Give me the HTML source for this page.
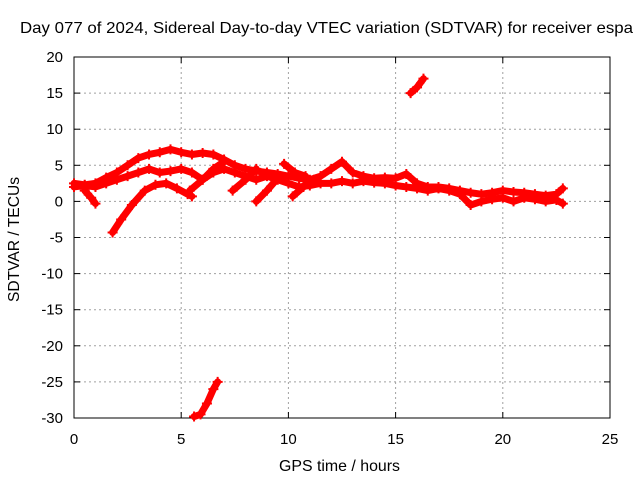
<!DOCTYPE html>
<html><head><meta charset="utf-8"><style>
body{margin:0;background:#fff}
svg{display:block;font-family:"Liberation Sans",sans-serif}
</style></head><body>
<svg id="chart" width="640" height="480" viewBox="0 0 640 480">
<rect width="640" height="480" fill="#fff"/>
<g id="grid"></g>
<g id="axes"></g>
<g id="series"></g>
<text x="20" y="33" font-size="16" textLength="613" lengthAdjust="spacingAndGlyphs">Day 077 of 2024, Sidereal Day-to-day VTEC variation (SDTVAR) for receiver espa</text>
<text x="279" y="471" font-size="16" textLength="121" lengthAdjust="spacingAndGlyphs">GPS time / hours</text>
<text transform="translate(19,302) rotate(-90)" font-size="16" textLength="125" lengthAdjust="spacingAndGlyphs">SDTVAR / TECUs</text>
</svg>
<script>
const xTicks=[0,5,10,15,20,25];
const yTicks=[20,15,10,5,0,-5,-10,-15,-20,-25,-30];
const trackUpper=[[0,2.5],[0.5,2.3],[1,2.5],[1.5,3.3],[2,4],[2.5,5],[3,6],[3.5,6.5],[4,6.8],[4.5,7.2],[5,6.8],[5.5,6.5],[6,6.7],[6.5,6.5],[7,5.8],[7.5,5],[8,4.5],[8.5,4.2],[9,4],[9.5,3.8],[10,3.5],[10.5,3.2],[11,3],[11.5,3.5],[12,4.5],[12.5,5.5],[13,4],[13.5,3.5],[14,3.2],[14.5,3.3],[15,3.2],[15.5,3.8],[16,2.5],[16.5,2],[17,2],[17.5,1.8],[18,1.5],[18.5,1.2],[19,1],[19.5,1.2],[20,1.5],[20.5,1.3],[21,1.2],[21.5,1],[22,0.8],[22.5,1],[22.8,1.8]];
const trackLower=[[0,2],[0.5,2.2],[1,2],[1.5,2.5],[2,3],[2.5,3.5],[3,4],[3.5,4.5],[4,4],[4.5,4.2],[5,4.5],[5.5,4],[6,3],[6.5,4],[7,4.5],[7.5,4],[8,3.5],[8.5,3],[9,3.5],[9.5,3],[10,2.5],[10.5,2],[11,2.2],[11.5,2.5],[12,2.5],[12.5,2.8],[13,2.5],[13.5,2.8],[14,2.6],[14.5,2.5],[15,2.2],[15.5,2],[16,1.8],[16.5,1.5],[17,1.8],[17.5,1.5],[18,1],[18.5,-0.5],[19,0],[19.5,0.3],[20,0.5],[20.5,0],[21,0.5],[21.5,0.3],[22,0],[22.5,0.2],[22.8,-0.3]];
const trackRise=[[1.8,-4.3],[2.2,-2.5],[2.7,-0.5],[3.3,1.5],[3.8,2.3],[4.3,2.5],[4.8,1.8],[5.3,1],[5.5,0.7]];
const trackDip=[[0.5,1.5],[0.8,0.5],[1,-0.3]];
const hookA=[[5.4,1.5],[6,3],[6.5,4.5],[7,5.5]];
const hookB=[[7.4,1.5],[8,3],[8.5,4.5]];
const hookC=[[8.5,0],[9,1.5],[9.5,3.2]];
const hookD=[[10.2,0.7],[10.7,2],[11.2,3]];
const hookE=[[9.8,5.2],[10.3,4],[10.8,3.5]];
const trackHigh=[[15.7,15],[16,15.8],[16.3,17]];
const trackLow=[[5.6,-29.8],[5.9,-29.5],[6.2,-28],[6.5,-26],[6.7,-25]];
const tracks=[trackUpper,trackLower,trackRise,trackDip,hookA,hookB,hookC,hookD,hookE,trackHigh,trackLow];
const X0=74,X1=610,Y0=418,Y1=57;
const sx=v=>X0+(v-0)/25*(X1-X0);
const sy=v=>Y0-(v+30)/50*(Y0-Y1);
const NS="http://www.w3.org/2000/svg";
function mk(t,a,p){const e=document.createElementNS(NS,t);for(const k in a)e.setAttribute(k,a[k]);p.appendChild(e);return e;}
const grid=document.getElementById('grid'),axes=document.getElementById('axes'),ser=document.getElementById('series');
xTicks.forEach(t=>{const x=sx(t);
 if(t>0&&t<25){const g=mk('line',{x1:x,x2:x,y1:Y1,y2:Y0,stroke:'#a0a0a0','stroke-dasharray':'2,3'},grid);
 }
 const l=mk('text',{x:x,y:Y0+26,'font-size':15,'text-anchor':'middle'},axes);l.textContent=t;
 
 mk('line',{x1:x,x2:x,y1:Y0,y2:Y0-6,stroke:'#000'},axes);mk('line',{x1:x,x2:x,y1:Y1,y2:Y1+6,stroke:'#000'},axes);});
yTicks.forEach(t=>{const y=sy(t);
 if(t>-30&&t<20){const g=mk('line',{x1:X0,x2:X1,y1:y,y2:y,stroke:'#a0a0a0','stroke-dasharray':'2,3'},grid);
 }
 const l=mk('text',{x:X0-11,y:y+5,'font-size':15,'text-anchor':'end'},axes);l.textContent=t;
 
 mk('line',{x1:X0,x2:X0+6,y1:y,y2:y,stroke:'#000'},axes);mk('line',{x1:X1,x2:X1-6,y1:y,y2:y,stroke:'#000'},axes);});
const fr=mk('rect',{x:X0,y:Y1,width:X1-X0,height:Y0-Y1,fill:'none',stroke:'#000'},axes);

tracks.forEach(tr=>{
 const pl=mk('polyline',{points:tr.map(p=>sx(p[0])+','+sy(p[1])).join(' '),fill:'none',stroke:'#f00','stroke-width':7,'stroke-linejoin':'round','stroke-linecap':'round'},ser);
 
 tr.forEach(p=>{const x=sx(p[0]),y=sy(p[1]);
  const m=mk('path',{d:`M${x-5},${y}h10M${x},${y-5}v10`,stroke:'#f00','stroke-width':2},ser);
  });
});
</script>
</body></html>
